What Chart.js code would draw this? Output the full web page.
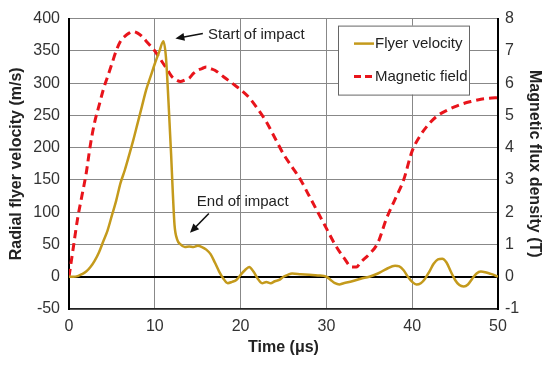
<!DOCTYPE html>
<html lang="en">
<head>
  <meta charset="UTF-8">
  <title>Flyer velocity and magnetic field</title>
  <script src="https://cdn.jsdelivr.net/npm/chart.js"></script>
  <style>
    html, body { margin: 0; padding: 0; background: #fff; }
    #wrap { width: 550px; height: 369px; position: relative; }
  </style>
</head>
<body>
  <div id="wrap"><canvas id="chart"></canvas></div>

  <script>
    // Flyer velocity (m/s) vs time (us)
    const flyerTime = [0, 0.5, 1, 1.5, 2, 2.5, 3, 3.5, 4, 4.5, 5, 5.5, 6, 6.5, 7, 7.5, 8, 8.5, 9, 9.5, 10, 10.5, 11,
      11.3, 11.6, 11.9, 12.1, 12.3, 12.6, 13, 13.5, 14, 14.5, 15, 15.5, 16, 16.5, 17, 17.5, 18, 18.5, 19, 19.5,
      20, 20.5, 21, 21.5, 22, 22.5, 23, 23.5, 24, 24.5, 25, 25.5, 26, 27, 28, 29, 30, 30.5, 31, 31.5, 32, 33, 34,
      35, 36, 37, 38, 38.5, 39, 39.5, 40, 40.5, 41, 41.5, 42, 42.5, 43, 43.5, 44, 44.5, 45, 45.5, 46, 46.5, 47,
      47.5, 48, 48.5, 49, 49.5, 50];
    const flyerVelocity = [0, 0, 1, 4, 8, 15, 25, 38, 55, 72, 95, 118, 145, 165, 188, 212, 238, 264, 290, 310, 330, 348, 365,
      340, 270, 190, 130, 80, 58, 50, 46, 47, 46, 48, 46, 42, 35, 22, 8, -3, -10, -8, -5,
      3, 10, 15, 8, -3, -10, -8, -10, -7, -5, 0, 3, 5, 4, 3, 2, 0, -5, -10, -12, -10, -7, -3,
      0, 5, 12, 17, 16, 10, 0, -8, -12, -10, -3, 8, 20, 27, 28, 22, 8, -5, -13, -15, -12, -3,
      5, 8, 7, 5, 3, 0];

    // Magnetic flux density (T) vs time (us)
    const fieldTime = [0, 0.5, 1, 1.5, 2, 2.5, 3, 3.5, 4, 4.5, 5, 5.5, 6, 6.5, 7, 7.5, 8, 8.5, 9, 9.5, 10, 10.5, 11,
      11.5, 12, 12.5, 13, 13.5, 14, 14.5, 15, 15.5, 16, 16.5, 17, 18, 19, 20, 21, 22, 23, 24, 25, 26, 27, 28, 29,
      30, 31, 32, 33, 33.5, 34, 35, 36, 37, 38, 39, 40, 41, 42, 43, 44, 45, 46, 47, 48, 49, 50];
    const fieldDensity = [0, 0.9, 1.8, 2.5, 3.2, 4.1, 4.8, 5.3, 5.8, 6.2, 6.6, 7.0, 7.3, 7.45, 7.55, 7.6, 7.55, 7.45, 7.3, 7.15, 7.0, 6.8, 6.6,
      6.4, 6.2, 6.1, 6.05, 6.1, 6.15, 6.3, 6.4, 6.45, 6.5, 6.45, 6.4, 6.2, 6.0, 5.8, 5.55, 5.2, 4.8, 4.3, 3.8, 3.4, 3.0, 2.5, 2.0,
      1.5, 1.0, 0.6, 0.3, 0.3, 0.45, 0.7, 1.05, 1.8, 2.4, 3.0, 3.9, 4.4, 4.75, 5.0, 5.15, 5.27, 5.37, 5.44, 5.5, 5.53, 5.55];

    const seriesNames = ['Flyer velocity', 'Magnetic field'];
    const seriesColors = ['#C49A1C', '#E8141B'];

    // annotation anchors in data units (time, velocity)
    const notes = [
      { text: 'Start of impact', tx: 16.2, ty: 375, from: [15.6, 377], to: [12.4, 369] },
      { text: 'End of impact', tx: 14.9, ty: 116, from: [16.3, 98], to: [14.1, 68] }
    ];

    const font = "'Liberation Sans', Arial, sans-serif";

    const notesPlugin = {
      id: 'notes',
      afterDatasetsDraw(chart) {
        const { ctx, scales: { x, y } } = chart;
        ctx.save();
        ctx.font = '15px ' + font;
        ctx.fillStyle = '#222';
        ctx.textBaseline = 'middle';
        notes.forEach(n => {
          ctx.fillText(n.text, x.getPixelForValue(n.tx), y.getPixelForValue(n.ty));
          const x1 = x.getPixelForValue(n.from[0]), y1 = y.getPixelForValue(n.from[1]);
          const x2 = x.getPixelForValue(n.to[0]), y2 = y.getPixelForValue(n.to[1]);
          const a = Math.atan2(y2 - y1, x2 - x1);
          ctx.strokeStyle = '#111';
          ctx.lineWidth = 1.6;
          ctx.beginPath();
          ctx.moveTo(x1, y1);
          ctx.lineTo(x2 - 6 * Math.cos(a), y2 - 6 * Math.sin(a));
          ctx.stroke();
          ctx.fillStyle = '#111';
          ctx.beginPath();
          ctx.moveTo(x2, y2);
          ctx.lineTo(x2 - 9 * Math.cos(a) + 4 * Math.sin(a), y2 - 9 * Math.sin(a) - 4 * Math.cos(a));
          ctx.lineTo(x2 - 9 * Math.cos(a) - 4 * Math.sin(a), y2 - 9 * Math.sin(a) + 4 * Math.cos(a));
          ctx.closePath();
          ctx.fill();
          ctx.fillStyle = '#222';
        });
        ctx.restore();
      }
    };

    // legend box inside the plot, top right
    const legendPlugin = {
      id: 'boxLegend',
      afterDraw(chart) {
        const { ctx, chartArea } = chart;
        const left = chartArea.right - 160, top = chartArea.top + 7;
        const w = 131, h = 69;
        ctx.save();
        ctx.fillStyle = '#fff';
        ctx.fillRect(left, top, w, h);
        ctx.strokeStyle = '#666';
        ctx.lineWidth = 1;
        ctx.strokeRect(left + 0.5, top + 0.5, w, h);
        ctx.font = '15px ' + font;
        ctx.textBaseline = 'middle';
        [18, 51].forEach((dy, i) => {
          ctx.strokeStyle = seriesColors[i];
          ctx.lineWidth = i === 0 ? 2.5 : 3;
          ctx.setLineDash(i === 0 ? [] : [7, 4]);
          ctx.beginPath();
          ctx.moveTo(left + 16, top + dy);
          ctx.lineTo(left + 36, top + dy);
          ctx.stroke();
          ctx.setLineDash([]);
          ctx.fillStyle = '#222';
          ctx.fillText(seriesNames[i], left + 37, top + dy);
        });
        ctx.restore();
      }
    };

    const ctx = document.getElementById('chart').getContext('2d');
    new Chart(ctx, {
      type: 'line',
      data: {
        datasets: [
          {
            label: seriesNames[0],
            data: flyerTime.map((t, i) => ({ x: t, y: flyerVelocity[i] })),
            borderColor: seriesColors[0],
            borderWidth: 2.5,
            pointRadius: 0,
            cubicInterpolationMode: 'monotone',
            yAxisID: 'y'
          },
          {
            label: seriesNames[1],
            data: fieldTime.map((t, i) => ({ x: t, y: fieldDensity[i] })),
            borderColor: seriesColors[1],
            borderWidth: 3,
            borderDash: [8, 5],
            pointRadius: 0,
            cubicInterpolationMode: 'monotone',
            yAxisID: 'y2'
          }
        ]
      },
      options: {
        responsive: true,
        maintainAspectRatio: false,
        animation: false,
        layout: { padding: { top: 17, left: 0, right: 0, bottom: 0 } },
        plugins: { legend: { display: false }, tooltip: { enabled: false } },
        scales: {
          x: {
            type: 'linear',
            min: 0, max: 50,
            ticks: { stepSize: 10, padding: 8, color: '#333', font: { family: font, size: 16 } },
            grid: { color: '#888', drawTicks: false },
            border: { color: '#222', width: 1.5 },
            title: { display: true, text: 'Time (μs)', color: '#222', font: { family: font, size: 16, weight: 'bold' }, padding: { top: 0, bottom: 12 } },
            afterFit(s) { s.height = 60; }
          },
          y: {
            position: 'left',
            min: -50, max: 400,
            ticks: { stepSize: 50, padding: 9, color: '#333', font: { family: font, size: 16 } },
            grid: {
              color: c => c.tick.value === 0 ? '#000' : '#888',
              lineWidth: c => c.tick.value === 0 ? 2 : 1,
              drawTicks: false
            },
            border: { color: '#000', width: 2 },
            title: { display: true, text: 'Radial flyer velocity (m/s)', color: '#222', font: { family: font, size: 16, weight: 'bold' }, padding: { top: 7, bottom: 0 } },
            afterFit(s) { s.width = 69; }
          },
          y2: {
            position: 'right',
            min: -1, max: 8,
            ticks: { stepSize: 1, padding: 7, color: '#333', font: { family: font, size: 16 } },
            grid: { drawOnChartArea: false, drawTicks: false },
            border: { color: '#000', width: 2 },
            title: { display: true, text: 'Magnetic flux density (T)', color: '#222', font: { family: font, size: 16, weight: 'bold' }, padding: { top: 6, bottom: 0 } },
            afterFit(s) { s.width = 52; }
          }
        }
      },
      plugins: [notesPlugin, legendPlugin]
    });
  </script>
</body>
</html>
